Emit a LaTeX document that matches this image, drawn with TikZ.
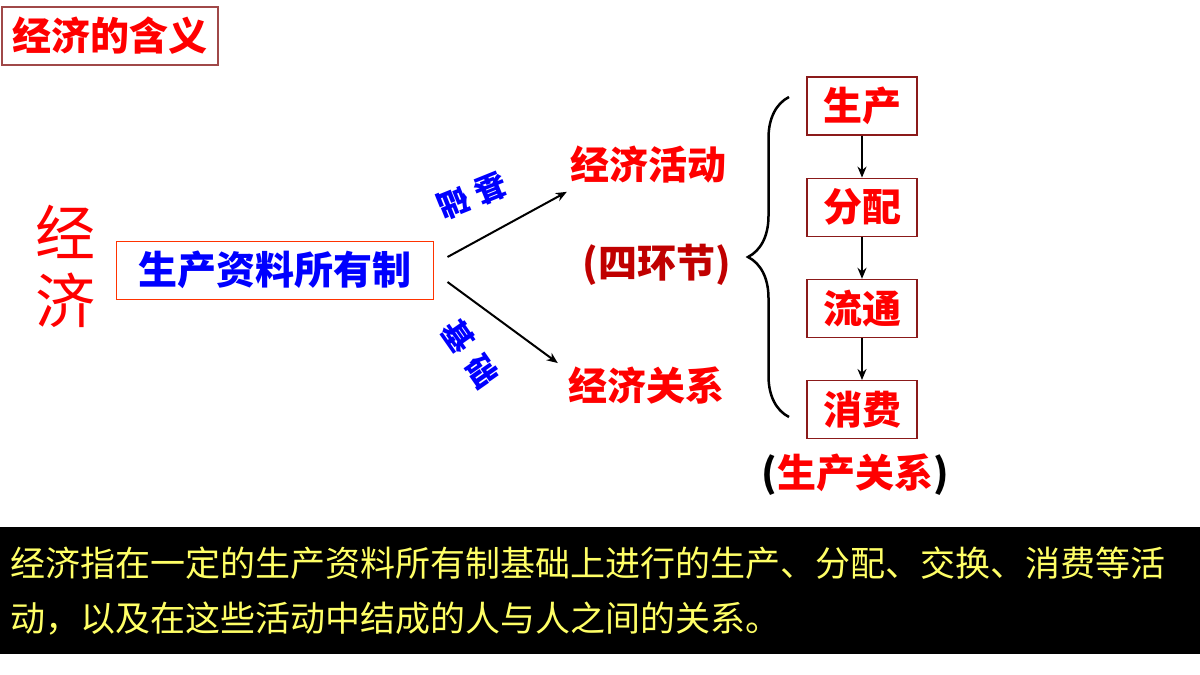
\documentclass[tikz,border=0pt]{standalone}
\usepackage{fontspec}
\setmainfont{Noto Sans CJK SC}
\usepackage{tikz}
\usetikzlibrary{arrows.meta,positioning,decorations.pathreplacing}
\definecolor{hdred}{HTML}{FF0000}
\definecolor{darkred}{HTML}{C00000}
\definecolor{titleframe}{HTML}{A04848}
\definecolor{ownframe}{HTML}{FF3300}
\definecolor{stageframe}{HTML}{8B1A1A}
\definecolor{ownblue}{HTML}{0000FF}
\definecolor{defyellow}{HTML}{FFFF66}

\begin{document}
\begin{tikzpicture}[
  x=1pt, y=-1pt,
  lbl/.style={font=\fontsize{39}{44}\selectfont\bfseries, text=hdred, inner sep=0pt},
  stagebox/.style={lbl, draw=stageframe, line width=1.2pt, minimum width=110pt, minimum height=58pt},
  basis/.style={font=\fontsize{31}{34}\selectfont\bfseries, text=ownblue, inner sep=0pt},
  arr/.style={-{Stealth[length=11pt,width=9pt]}, line width=2pt},
  node distance=42pt
]
\useasboundingbox (0,0) rectangle (1200,675);

\node[lbl, draw=titleframe, line width=1.2pt, minimum width=216pt, minimum height=58pt] (title) at (110,36) {经济的含义};

\node[font=\fontsize{60}{68}\selectfont, text=hdred, align=center, inner sep=0pt] (econ) at (65,266) {经\\济};
\node[lbl, text=ownblue, draw=ownframe, line width=1pt, minimum width=317pt, minimum height=58pt] (own) at (274.5,270) {生产资料所有制};

\node[lbl] (act) at (648,165) {经济活动};
\node[lbl, text=darkred] (four) at (657,265) {(四环节)};
\node[lbl] (rel) at (646,385) {经济关系};

\node[basis, rotate=202] (basisA) at (472,196) {基\hspace{9pt}础};
\node[basis, rotate=-55] (basisB) at (470,354) {基\hspace{12pt}础};

\node[stagebox] (prod) at (862,106) {生产};
\node[stagebox, below=of prod] (dist) {分配};
\node[stagebox, below=of dist] (circ) {流通};
\node[stagebox, below=of circ] (cons) {消费};

\node[lbl] (relprod) at (855,475) {{\color{black}(}生产关系{\color{black})}};

\coordinate (braceTop) at (789,97);
\coordinate (braceBot) at (789,417);

\draw[arr] ([xshift=14pt,yshift=13pt]own.east) -- ([xshift=-3pt,yshift=-8pt]act.south west);
\draw[arr] ([xshift=14pt,yshift=-12pt]own.east) -- ([xshift=-10pt,yshift=3pt]rel.north west);

\draw[arr] (prod) -- (dist);
\draw[arr] (dist) -- (circ);
\draw[arr] (circ) -- (cons);

\draw[decorate, decoration={brace, amplitude=41pt}, line width=2.5pt] (braceBot) -- (braceTop);

% definition band
\node[anchor=north west, fill=black, minimum width=1200pt, minimum height=127pt, text width=1180pt,
  inner xsep=10pt, inner ysep=0pt, align=left, font=\fontsize{35}{55}\selectfont, text=defyellow] (defn) at (0,527)
  {经济指在一定的生产资料所有制基础上进行的生产、分配、交换、消费等活\\动，以及在这些活动中结成的人与人之间的关系。};
\end{tikzpicture}
\end{document}
